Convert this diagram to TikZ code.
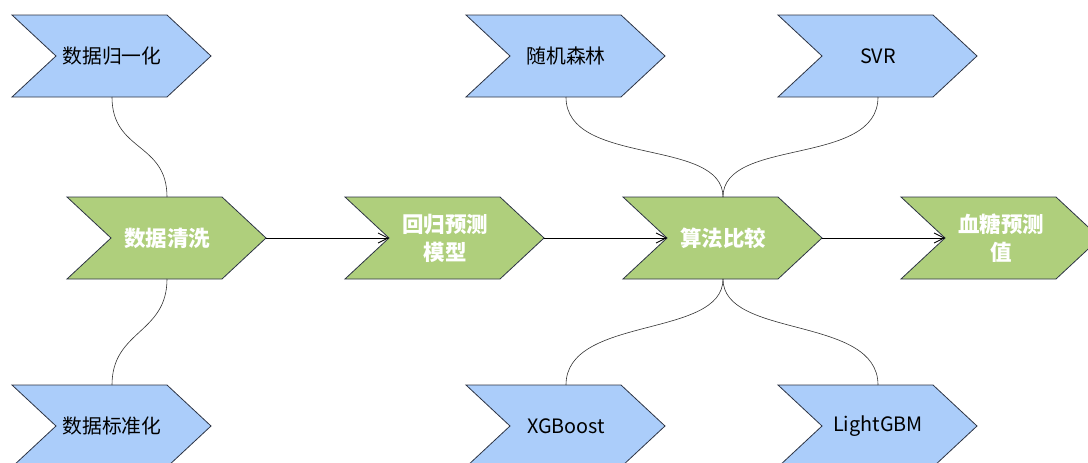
\documentclass[tikz,border=0pt]{standalone}
\usepackage{fontspec}
\setmainfont{Noto Sans CJK SC}
\usetikzlibrary{arrows.meta}
\definecolor{cblue}{RGB}{171,205,250}
\definecolor{cgreen}{RGB}{175,207,124}
\definecolor{cedge}{RGB}{45,52,68}
\tikzset{
  bluechev/.style={fill=cblue, draw=cedge, line width=0.8pt},
  greenchev/.style={fill=cgreen, draw=cedge, line width=0.8pt},
  bluechev text/.style={font=\fontsize{19.8}{23}\selectfont, text=black, align=center},
  greenchev text/.style={font=\fontsize{21.5}{28}\selectfont\bfseries, text=white, align=center},
  flow/.style={draw=black, line width=0.8pt, -{Straight Barb[length=10pt,width=10pt]}},
  branch/.style={draw=black!80, line width=0.6pt},
}
\newcommand\chev[5]{%
  \draw[#4] (#2,#3) -- ++(155,0) -- ++(44,41) -- ++(-44,41) -- ++(-155,0) -- ++(44,-41) -- cycle;
  \node[#4 text] (#1) at (#2+100,#3+41) {#5};
  \coordinate (#1-notch) at (#2+44,#3+41);
  \coordinate (#1-tip) at (#2+199,#3+41);
  \coordinate (#1-top) at (#2+100,#3);
  \coordinate (#1-bot) at (#2+100,#3+82);
}
\begin{document}
\begin{tikzpicture}[x=1pt,y=-1pt]
\useasboundingbox (0,0) rectangle (1088,463);
\clip (0,0) rectangle (1088,463);
\chev{norm}{12}{15}{bluechev}{数据归一化}
\chev{rf}{466}{15}{bluechev}{随机森林}
\chev{svr}{778}{15}{bluechev}{SVR}
\chev{clean}{67}{197}{greenchev}{数据清洗}
\chev{model}{345}{197}{greenchev}{回归预测\\模型}
\chev{cmp}{623}{197}{greenchev}{算法比较}
\chev{pred}{901}{197}{greenchev}{血糖预测\\值}
\chev{std}{12}{385}{bluechev}{数据标准化}
\chev{xgb}{466}{385}{bluechev}{XGBoost}
\chev{lgb}{778}{385}{bluechev}{LightGBM}
\draw[flow] (clean-tip) -- (model-notch);
\draw[flow] (model-tip) -- (cmp-notch);
\draw[flow] (cmp-tip) -- (pred-notch);
\draw[branch] (norm-bot) .. controls +(0,55) and +(0,-55) .. (clean-top);
\draw[branch] (clean-bot) .. controls +(0,55) and +(0,-55) .. (std-top);
\draw[branch] (rf-bot) .. controls +(0,70) and +(0,-60) .. (cmp-top);
\draw[branch] (svr-bot) .. controls +(0,70) and +(0,-60) .. (cmp-top);
\draw[branch] (cmp-bot) .. controls +(0,60) and +(0,-70) .. (xgb-top);
\draw[branch] (cmp-bot) .. controls +(0,60) and +(0,-70) .. (lgb-top);
\end{tikzpicture}
\end{document}
